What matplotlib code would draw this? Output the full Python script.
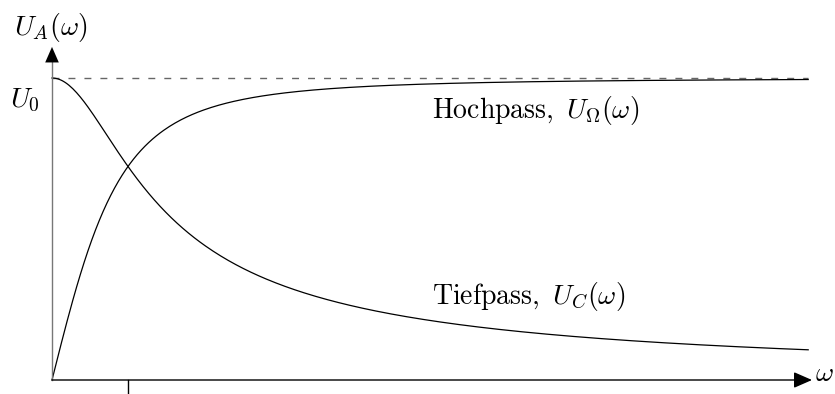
import numpy as np
import matplotlib
matplotlib.use("Agg")
import matplotlib.pyplot as plt

plt.rcParams["mathtext.fontset"] = "cm"

# RC filter: output amplitude vs. angular frequency (normalised: U0 = 1, omega_c = 1)
U0 = 1.0
omega_c = 1.0
omega_max = 9.95
n_samples = 400

omega = np.linspace(0.0, omega_max, n_samples)
u_tiefpass = U0 / np.sqrt(1.0 + (omega / omega_c) ** 2)
u_hochpass = U0 * (omega / omega_c) / np.sqrt(1.0 + (omega / omega_c) ** 2)

W, H, DPI = 835, 394, 100
fig = plt.figure(figsize=(W / DPI, H / DPI), dpi=DPI)
# axes box: omega 0..10 -> x px 52..812, U 0..1 -> y px 380..78
x0, x1 = 52, 812
y0, y1 = 380, 78
ax = fig.add_axes([x0 / W, (H - y0) / H, (x1 - x0) / W, (y0 - y1) / H])
ax.set_xlim(0, 10)
ax.set_ylim(0, 1)
ax.axis("off")

# reference level U0
ax.plot([0, omega_max], [U0, U0], color="#666666", lw=1.0,
        linestyle=(0, (5, 6.5)), clip_on=False)

# curves
ax.plot(omega, u_tiefpass, color="black", lw=0.9, clip_on=False)
ax.plot(omega, u_hochpass, color="black", lw=0.9, clip_on=False)

# axes with arrowheads
head = "-|>,head_length=0.8,head_width=0.35"
ax.annotate("", xy=(10.0, 0), xytext=(0, 0),
            arrowprops=dict(arrowstyle=head, color="black", lw=1.0,
                            shrinkA=0, shrinkB=0, mutation_scale=14),
            annotation_clip=False)
ax.plot([0, 0], [0, 1.07], color="#777777", lw=1.0, clip_on=False)
ax.annotate("", xy=(0, 1.103), xytext=(0, 1.05),
            arrowprops=dict(arrowstyle=head, color="black", lw=0.0,
                            shrinkA=0, shrinkB=0, mutation_scale=14),
            annotation_clip=False)

# cutoff tick below the omega axis
ax.plot([omega_c, omega_c], [0, -0.05], color="black", lw=1.0, clip_on=False)

fs = 20
ax.text(10.04, 0.023, r"$\omega$", fontsize=fs, ha="left", va="center")
ax.text(-0.01, 1.166, r"$U_A(\omega)$", fontsize=fs, ha="center", va="center")
ax.text(-0.355, 0.927, r"$U_0$", fontsize=fs, ha="center", va="center")
ax.text(5.0, 0.894, r"$\mathrm{Hochpass,}\ U_\Omega(\omega)$", fontsize=fs,
        ha="left", va="center")
ax.text(5.0, 0.278, r"$\mathrm{Tiefpass,}\ U_C(\omega)$", fontsize=fs,
        ha="left", va="center")

fig.savefig("out.png", dpi=DPI)
